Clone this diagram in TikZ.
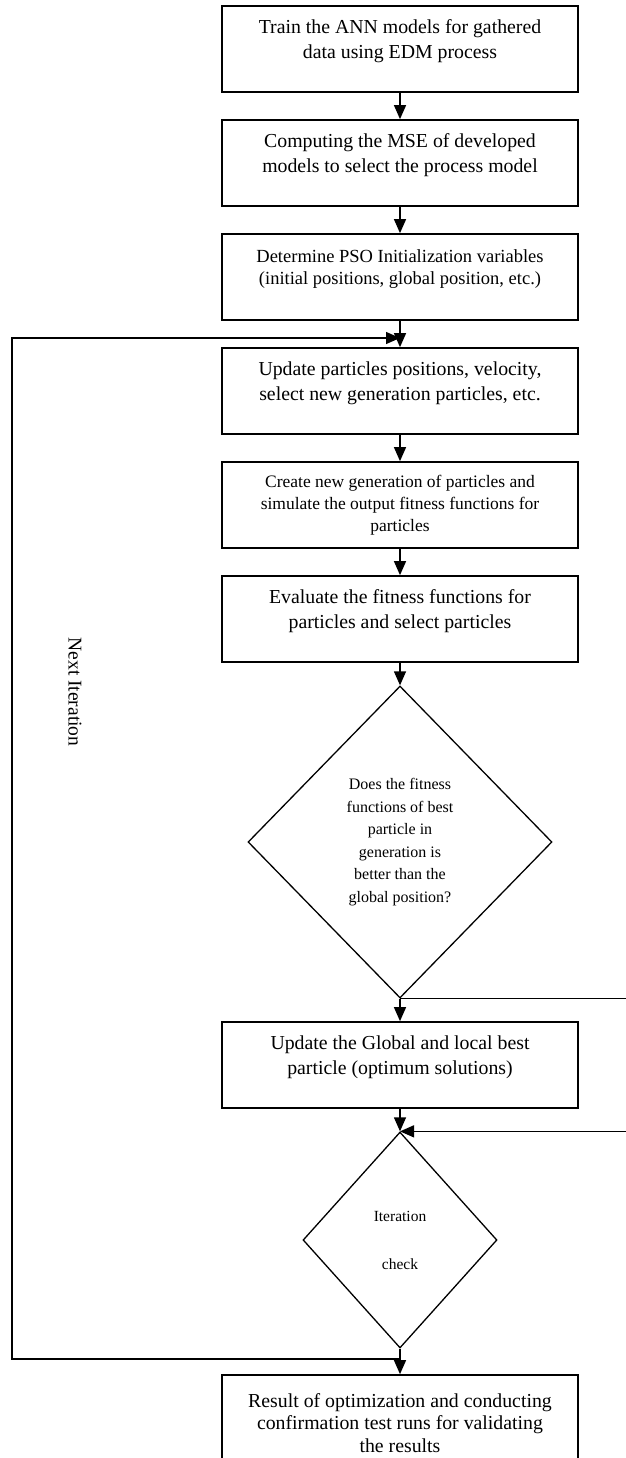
\documentclass[tikz,border=0pt]{standalone}
\usepackage{fontspec}
\setmainfont{Liberation Serif}
\usepackage{tikz}
\usetikzlibrary{shapes.geometric,arrows.meta}
\tikzset{
  stepbox/.style={draw, line width=1.7pt, minimum width=356pt, minimum height=86pt,
    inner sep=0pt, align=center, text depth=20pt, font=\fontsize{19.8}{24.5}\selectfont},
  stepboxsmall/.style={stepbox, font=\fontsize{18.5}{22}\selectfont},
  decision/.style={draw, diamond, line width=1.3pt, inner sep=0pt, align=center,
    font=\fontsize{16}{22.5}\selectfont},
  flow/.style={line width=1.3pt, -{Triangle[width=12pt,length=14pt]}},
  side/.style={line width=1pt}
}
\begin{document}
\begin{tikzpicture}[x=1pt,y=-1pt]
\useasboundingbox (0,0) rectangle (626,1458);
\node[stepbox](train)at(400,49){Train the ANN models for gathered\\data using EDM process};
\node[stepbox](mse)at(400,163){Computing the MSE of developed\\models to select the process model};
\node[stepboxsmall](init)at(400,277){Determine PSO Initialization variables\\(initial positions, global position, etc.)};
\node[stepbox](update)at(400,391){Update particles positions, velocity,\\select new generation particles, etc.};
\node[stepbox, text depth=4pt, font=\fontsize{17.5}{22}\selectfont](create)at(400,505){Create new generation of particles and\\simulate the output fitness functions for\\particles};
\node[stepbox](evaluate)at(400,619){Evaluate the fitness functions for\\particles and select particles};
\node[decision, minimum width=304pt, minimum height=312pt](better)at(400,842){Does the fitness\\functions of best\\particle in\\generation is\\better than the\\global position?};
\node[stepbox](best)at(400,1065){Update the Global and local best\\particle (optimum solutions)};
\node[decision, minimum width=194pt, minimum height=216pt, font=\fontsize{15.5}{24}\selectfont](check)at(400,1240){Iteration\\[24pt]check};
\node[stepbox, minimum height=100pt, text depth=4pt, font=\fontsize{19.8}{22.5}\selectfont](result)at(400,1425){Result of optimization and conducting\\confirmation test runs for validating\\the results};
\coordinate(jt)at(400,338);
\coordinate(lt)at(12,338);
\coordinate(jb)at(400,1359);
\coordinate(lb)at(12,1359);
\coordinate(r1)at(640,998);
\coordinate(r2)at(640,1132);
\draw[flow](train)--(mse);
\draw[flow](mse)--(init);
\draw[flow](init)--(update);
\draw[flow](update)--(create);
\draw[flow](create)--(evaluate);
\draw[flow](evaluate)--(better);
\draw[flow](better)--(best);
\draw[flow](best)--(check);
\draw[flow](check)--(result);
\draw[flow](jb)--(lb)--(lt)--(jt);
\draw[side](better.south)--(better.south-|r1);
\draw[flow](check.north-|r2)--(check.north);
\node[rotate=-90, font=\fontsize{19.5}{24}\selectfont](next)at(75,692){Next Iteration};
\end{tikzpicture}
\end{document}
